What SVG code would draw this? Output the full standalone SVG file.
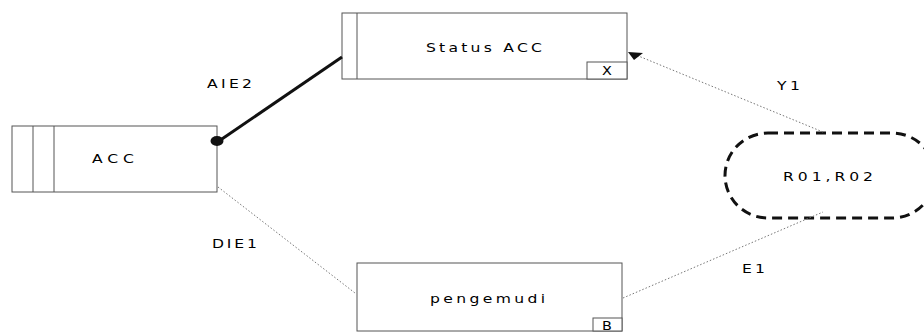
<svg xmlns="http://www.w3.org/2000/svg" width="924" height="334" viewBox="0 0 924 334">
  <style>
    .box { fill: #fff; stroke: #555; stroke-width: 1; }
    .lbl { font-family: "DejaVu Sans", "Liberation Sans", sans-serif; font-size: 12px; fill: #000; }
    .dot { fill: none; stroke: #777; stroke-width: 1; stroke-dasharray: 1.5 2; }
  </style>
  <rect width="924" height="334" fill="#fff"/>

  <!-- labels are widened by scale(1.3,1); textLength is given in the unscaled space -->
  <g id="acc">
    <rect class="box" x="12" y="126" width="205" height="66"/>
    <line x1="33" y1="126" x2="33" y2="192" stroke="#555"/>
    <line x1="54" y1="126" x2="54" y2="192" stroke="#555"/>
    <text class="lbl" transform="translate(92 163) scale(1.3 1)" textLength="32.3" lengthAdjust="spacing">ACC</text>
  </g>

  <g id="status-acc">
    <rect class="box" x="342" y="13" width="285" height="66"/>
    <line x1="357" y1="13" x2="357" y2="79" stroke="#555"/>
    <rect class="box" x="587" y="62" width="40" height="17"/>
    <text class="lbl" transform="translate(426 52) scale(1.3 1)" textLength="89.2" lengthAdjust="spacing">Status ACC</text>
    <text class="lbl" transform="translate(607 75) scale(1.2 1)" text-anchor="middle">X</text>
  </g>

  <g id="pengemudi">
    <rect class="box" x="357" y="263" width="265" height="68"/>
    <rect class="box" x="593" y="318" width="29" height="13"/>
    <text class="lbl" transform="translate(430 303) scale(1.3 1)" textLength="88.5" lengthAdjust="spacing">pengemudi</text>
    <text class="lbl" transform="translate(607 330) scale(1.2 1)" text-anchor="middle">B</text>
  </g>

  <g id="r01-r02">
    <rect x="725" y="133" width="210" height="85" rx="43" ry="43" fill="none" stroke="#111" stroke-width="3" stroke-dasharray="10 6"/>
    <text class="lbl" transform="translate(783 181) scale(1.3 1)" textLength="69.2" lengthAdjust="spacing">R01,R02</text>
  </g>

  <g id="connectors">
    <line x1="219" y1="141" x2="342" y2="57" stroke="#111" stroke-width="3"/>
    <ellipse cx="217" cy="141" rx="6.5" ry="5" fill="#111"/>
    <line class="dot" x1="823" y1="132" x2="636" y2="55"/>
    <polygon points="628,52 643,53 634,60" fill="#111"/>
    <line class="dot" x1="623" y1="298" x2="823" y2="212"/>
    <line class="dot" x1="218" y1="187" x2="355" y2="293"/>
    <text class="lbl" transform="translate(207 88) scale(1.3 1)" textLength="34.6" lengthAdjust="spacing">AIE2</text>
    <text class="lbl" transform="translate(777 90) scale(1.3 1)" textLength="17.7" lengthAdjust="spacing">Y1</text>
    <text class="lbl" transform="translate(742 273) scale(1.3 1)" textLength="17.7" lengthAdjust="spacing">E1</text>
    <text class="lbl" transform="translate(212 248) scale(1.3 1)" textLength="34.6" lengthAdjust="spacing">DIE1</text>
  </g>
</svg>
